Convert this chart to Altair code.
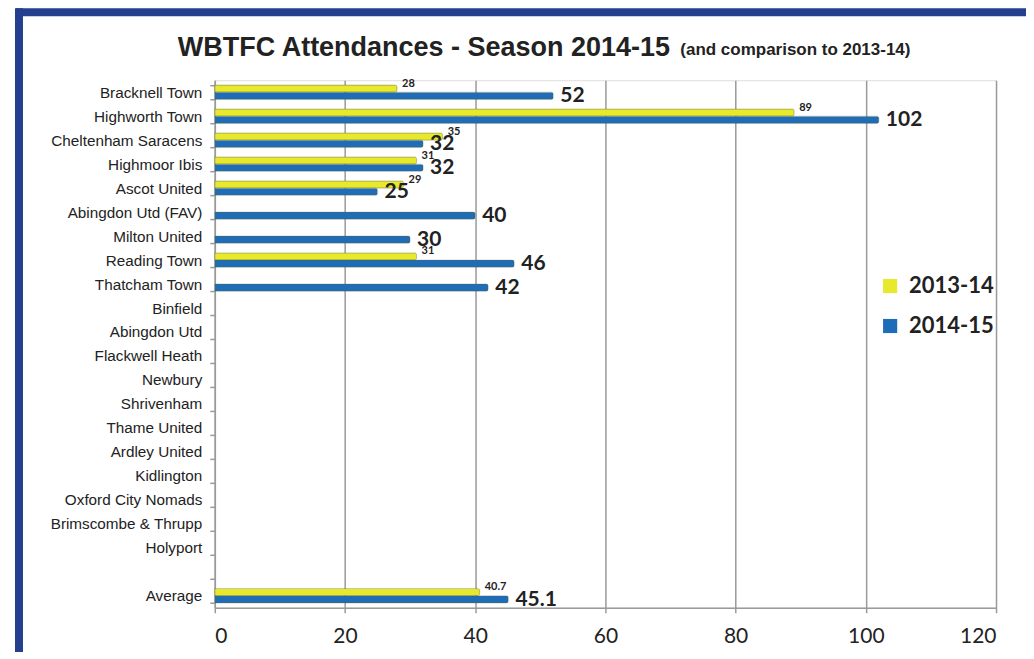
import altair as alt
import pandas as pd

teams = ["Bracknell Town", "Highworth Town", "Cheltenham Saracens", "Highmoor Ibis",
         "Ascot United", "Abingdon Utd (FAV)", "Milton United", "Reading Town",
         "Thatcham Town", "Binfield", "Abingdon Utd\u00a0\u00a0", "Flackwell Heath", "Newbury",
         "Shrivenham", "Thame United", "Ardley United", "Kidlington",
         "Oxford City Nomads", "Brimscombe & Thrupp", "Holyport", "\u00a0", "Average"]
s1314 = [28, 89, 35, 31, 29, None, None, 31, None, None, None, None, None,
         None, None, None, None, None, None, None, None, 40.7]
s1415 = [52, 102, 32, 32, 25, 40, 30, 46, 42, None, None, None, None,
         None, None, None, None, None, None, None, None, 45.1]
seasons = ["2013-14", "2014-15"]
colors = ["#e8e82c", "#1f6db8"]
x_ticks = [0, 20, 40, 60, 80, 100, 120]
title_main = "WBTFC Attendances - Season 2014-15"
title_sub = "(and comparison to 2013-14)"

SANS = "Arial, 'Liberation Sans', sans-serif"

rows = []
for t, a, b in zip(teams, s1314, s1415):
    if a is not None:
        rows.append({"team": t, "season": seasons[0], "value": a})
    if b is not None:
        rows.append({"team": t, "season": seasons[1], "value": b})
df = pd.DataFrame(rows)

W, H = 782, 528
yscale = alt.Scale(domain=teams, paddingInner=0.4, paddingOuter=0.2)

y_enc = alt.Y("team:N", sort=teams, scale=yscale,
              axis=alt.Axis(title=None, tickBand="extent", labelFont=SANS,
                            labelFontSize=15.3, labelColor="#222222", labelPadding=8,
                            tickSize=5, tickColor="#9a9a9a", tickWidth=1.5,
                            domainColor="#9a9a9a", domainWidth=1.5, grid=False))
x_enc = alt.X("value:Q", scale=alt.Scale(domain=[0, 120], nice=False),
              axis=alt.Axis(title=None, values=x_ticks, grid=True, gridColor="#9a9a9a",
                            gridWidth=1.5, domainColor="#9a9a9a", domainWidth=1.5,
                            tickColor="#9a9a9a", tickSize=5, tickWidth=1.5,
                            labelFont="Lato", labelFontSize=21, labelColor="#222222",
                            labelPadding=13))
yoff = alt.YOffset("season:N", scale=alt.Scale(domain=seasons, paddingInner=0, paddingOuter=0))

base = alt.Chart(df)

bars = base.mark_bar(cornerRadiusEnd=2, stroke="#5a6a30", strokeWidth=0.3).encode(
    y=y_enc, x=x_enc, yOffset=yoff,
    color=alt.Color("season:N", scale=alt.Scale(domain=seasons, range=colors),
                    legend=alt.Legend(title=None, orient="none", legendX=665, legendY=195,
                                      symbolType="square", symbolSize=200,
                                      symbolStrokeWidth=0, labelFont="Lato",
                                      labelFontSize=22, labelFontWeight="bold",
                                      labelColor="#222222", rowPadding=18,
                                      labelOffset=8)),
)

small = base.transform_filter(alt.datum.season == seasons[0]).mark_text(
    align="left", baseline="alphabetic", dx=5, dy=-2, font="Lato", fontSize=11,
    fontWeight="bold", color="#222222").encode(
    y=alt.Y("team:N", sort=teams, scale=yscale),
    x="value:Q", yOffset=yoff, text=alt.Text("value:Q"))

big = base.transform_filter(alt.datum.season == seasons[1]).mark_text(
    align="left", baseline="middle", dx=7, dy=0.5, font="Lato", fontSize=21,
    fontWeight="bold", color="#222222").encode(
    y=alt.Y("team:N", sort=teams, scale=yscale),
    x="value:Q", yOffset=yoff, text=alt.Text("value:Q"))

main_t = alt.Chart(pd.DataFrame({"t": [title_main]})).mark_text(
    align="left", baseline="alphabetic", font=SANS, fontSize=27,
    fontWeight="bold", color="#222222").encode(
    x=alt.value(-37), y=alt.value(-24), text="t:N")

sub = alt.Chart(pd.DataFrame({"t": [title_sub]})).mark_text(
    align="left", baseline="alphabetic", font=SANS, fontSize=17,
    fontWeight="bold", color="#222222").encode(
    x=alt.value(466), y=alt.value(-25), text="t:N")

frame_top = alt.Chart(pd.DataFrame({"k": [0]})).mark_rule(
    color="#243f8e", strokeWidth=8).encode(
    x=alt.value(-199), x2=alt.value(830), y=alt.value(-68))
frame_left = alt.Chart(pd.DataFrame({"k": [0]})).mark_rule(
    color="#243f8e", strokeWidth=8).encode(
    x=alt.value(-196), y=alt.value(-72), y2=alt.value(600))

chart = alt.layer(frame_top, frame_left, bars, small, big, main_t, sub).properties(
    width=W, height=H,
    autosize=alt.AutoSizeParams(type="none"),
    padding={"left": 207, "top": 72, "right": 30, "bottom": 44},
).configure_view(stroke=None).configure(background="white")

chart.save("out.html", embed_options={"renderer": "svg", "actions": False})
